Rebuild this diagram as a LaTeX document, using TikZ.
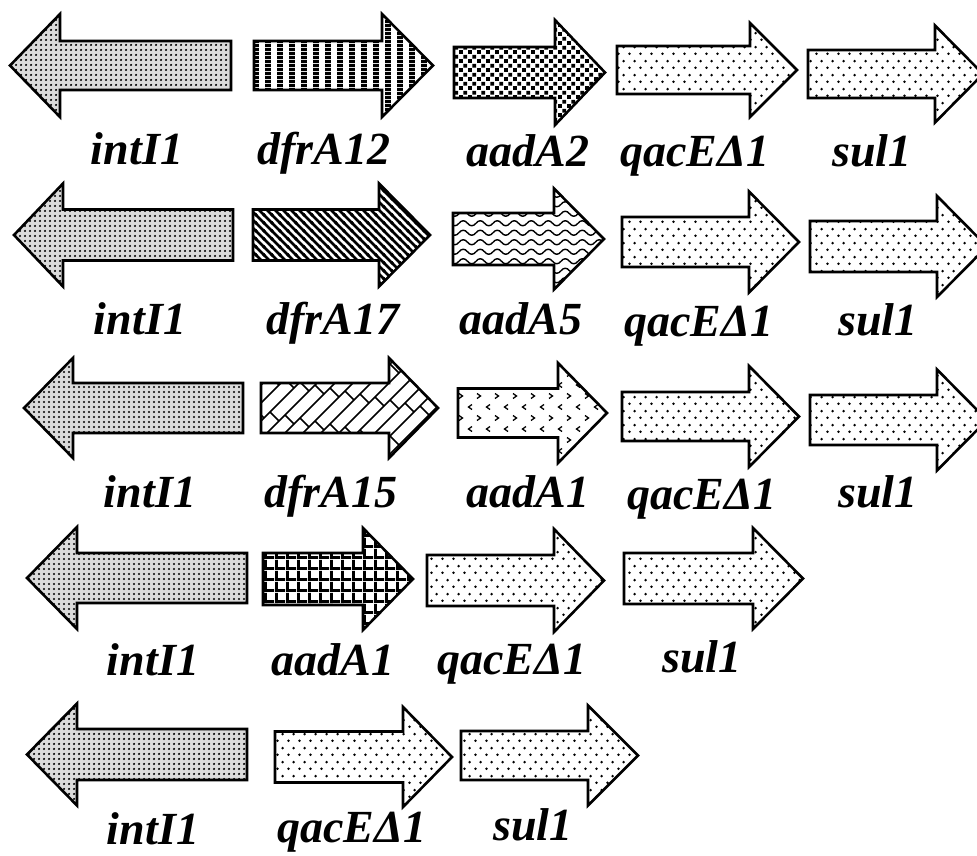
\documentclass[tikz,border=0pt]{standalone}
\usepackage{fontspec}
\setmainfont{Liberation Serif}
\usetikzlibrary{patterns}

\pgfdeclarepatternformonly{densedots}{\pgfqpoint{0pt}{0pt}}{\pgfqpoint{4.5pt}{4.5pt}}{\pgfqpoint{4.5pt}{4.5pt}}%
{\pgfpathcircle{\pgfqpoint{2.25pt}{2.25pt}}{1.3pt}\pgfusepath{fill}}
\pgfdeclarepatternformonly{sparsedots}{\pgfqpoint{0pt}{0pt}}{\pgfqpoint{11pt}{14pt}}{\pgfqpoint{11pt}{14pt}}%
{\pgfpathcircle{\pgfqpoint{2.75pt}{3.5pt}}{1.5pt}\pgfpathcircle{\pgfqpoint{8.25pt}{10.5pt}}{1.5pt}\pgfusepath{fill}}
\pgfdeclarepatternformonly{vstripes}{\pgfqpoint{0pt}{0pt}}{\pgfqpoint{11.5pt}{4pt}}{\pgfqpoint{11.5pt}{4pt}}%
{\pgfpathrectangle{\pgfqpoint{0pt}{0pt}}{\pgfqpoint{6pt}{4pt}}\pgfusepath{fill}}
\pgfdeclarepatternformonly{dstripes}{\pgfqpoint{-1pt}{-1pt}}{\pgfqpoint{9pt}{9pt}}{\pgfqpoint{8pt}{8pt}}%
{\pgfsetlinewidth{2.6pt}\pgfpathmoveto{\pgfqpoint{-1pt}{9pt}}\pgfpathlineto{\pgfqpoint{9pt}{-1pt}}%
\pgfpathmoveto{\pgfqpoint{-1pt}{1pt}}\pgfpathlineto{\pgfqpoint{1pt}{-1pt}}%
\pgfpathmoveto{\pgfqpoint{7pt}{9pt}}\pgfpathlineto{\pgfqpoint{9pt}{7pt}}\pgfusepath{stroke}}
\pgfdeclarepatternformonly{checks}{\pgfqpoint{0pt}{0pt}}{\pgfqpoint{9pt}{9pt}}{\pgfqpoint{9pt}{9pt}}%
{\pgfpathrectangle{\pgfqpoint{0.2pt}{0.2pt}}{\pgfqpoint{4.2pt}{4.2pt}}\pgfpathrectangle{\pgfqpoint{4.7pt}{4.7pt}}{\pgfqpoint{4.2pt}{4.2pt}}\pgfusepath{fill}}
\pgfdeclarepatternformonly{waves}{\pgfqpoint{0pt}{-1pt}}{\pgfqpoint{17pt}{10.5pt}}{\pgfqpoint{17pt}{9.5pt}}%
{\pgfsetlinewidth{1.4pt}\pgfpathmoveto{\pgfqpoint{0pt}{4.75pt}}%
\pgfpathcurveto{\pgfqpoint{2.8pt}{8.1pt}}{\pgfqpoint{5.7pt}{8.1pt}}{\pgfqpoint{8.5pt}{4.75pt}}%
\pgfpathcurveto{\pgfqpoint{11.3pt}{1.4pt}}{\pgfqpoint{14.2pt}{1.4pt}}{\pgfqpoint{17pt}{4.75pt}}\pgfusepath{stroke}}
\pgfdeclarepatternformonly{cgrid}{\pgfqpoint{0pt}{0pt}}{\pgfqpoint{11pt}{11pt}}{\pgfqpoint{11pt}{11pt}}%
{\pgfpathrectangle{\pgfqpoint{0pt}{0pt}}{\pgfqpoint{11pt}{3.2pt}}\pgfpathrectangle{\pgfqpoint{0pt}{0pt}}{\pgfqpoint{3.2pt}{11pt}}\pgfusepath{fill}}

% right-pointing gene: #2 shaft left, #3 head base, #4 tip, #5 centre y, #6 shaft half, #7 head half
\newcommand{\GeneR}[7][]{\draw[genebox,#1] (#2,#5-#6) -- (#3,#5-#6) -- (#3,#5-#7) -- (#4,#5) -- (#3,#5+#7) -- (#3,#5+#6) -- (#2,#5+#6) -- cycle;}
% left-pointing gene: #2 tip, #3 head base, #4 shaft end
\newcommand{\GeneL}[7][]{\draw[genebox,#1] (#2,#5) -- (#3,#5-#7) -- (#3,#5-#6) -- (#4,#5-#6) -- (#4,#5+#6) -- (#3,#5+#6) -- (#3,#5+#7) -- cycle;}
\newcommand{\ClipR}[6]{\clip (#1,#4-#5) -- (#2,#4-#5) -- (#2,#4-#6) -- (#3,#4) -- (#2,#4+#6) -- (#2,#4+#5) -- (#1,#4+#5) -- cycle;}

\tikzset{
  genebox/.style={draw=black, line width=2.6pt, line join=miter, miter limit=10},
  intpat/.style={preaction={fill=gray!28}, pattern=densedots, pattern color=black},
  lbl/.style={anchor=base, inner sep=0pt, font=\fontsize{46}{50}\selectfont\bfseries\itshape},
  brick/.style={line width=1.6pt},
  chev/.style={line width=1.3pt}
}

\begin{document}
\begin{tikzpicture}[x=1pt,y=-1pt]
\useasboundingbox (0,0) rectangle (977,855);
\fill[white] (0,0) rectangle (977,855);

% ---- row 1
\GeneL[intpat]{10}{60}{231}{65.5}{24.5}{51.5}
\GeneR[pattern=vstripes]{254}{382}{433}{65.5}{24.5}{51.5}
\GeneR[pattern=checks]{454}{555}{605}{72.5}{25.5}{52.5}
\GeneR[pattern=sparsedots]{617}{750}{797}{70}{24}{47}
\GeneR[pattern=sparsedots]{808}{935}{983}{74}{24}{48.5}
\node[lbl] (r1a) at (137,164) {intI1};
\node[lbl] (r1b) at (324,164) {dfrA12};
\node[lbl] (r1c) at (528,166) {aadA2};
\node[lbl] (r1d) at (695,166) {qacEΔ1};
\node[lbl] (r1e) at (872,166) {sul1};

% ---- row 2
\GeneL[intpat]{14}{63}{233}{235}{25.5}{51.5}
\GeneR[pattern=dstripes]{253}{379}{430}{235}{25.5}{51.5}
\GeneR[pattern=waves]{453}{554}{604}{239}{26}{50.5}
\GeneR[pattern=sparsedots]{622}{749}{799}{242}{25}{50.5}
\GeneR[pattern=sparsedots]{810}{937}{987}{246.5}{25.5}{50.5}
\node[lbl] (r2a) at (140,334) {intI1};
\node[lbl] (r2b) at (333,334) {dfrA17};
\node[lbl] (r2c) at (521,334) {aadA5};
\node[lbl] (r2d) at (699,336) {qacEΔ1};
\node[lbl] (r2e) at (878,335) {sul1};

% ---- row 3
\GeneL[intpat]{24}{73}{243}{408}{25}{50}
\begin{scope}
  \ClipR{261}{389}{438}{408}{25}{50}
  \foreach \k in {0,...,17}{
    \pgfmathsetmacro{\cc}{610+18*\k}
    \pgfmathsetmacro{\boff}{mod(\k,2)*15}
    \draw[brick] (250,\cc-250) -- (450,\cc-450);
    \foreach \j in {0,...,7}{
      \draw[brick] ({240+\boff+30*\j},{\cc-240-\boff-30*\j}) -- ++(9,9);
    }
  }
\end{scope}
\GeneR{261}{389}{438}{408}{25}{50}
\begin{scope}
  \ClipR{458}{558}{607}{413}{24.5}{50}
  \foreach \r in {0,...,9}{
    \pgfmathsetmacro{\yy}{363+11*\r}
    \pgfmathsetmacro{\coff}{mod(\r,2)*9}
    \pgfmathsetmacro{\cdir}{ifthenelse(mod(\r,2)==0,1,-1)}
    \foreach \c in {0,...,9}{
      \draw[chev] ({452+\coff+18*\c+2*\cdir},\yy-2.5) -- ({452+\coff+18*\c-1.5*\cdir},\yy) -- ({452+\coff+18*\c+2*\cdir},\yy+2.5);
    }
  }
\end{scope}
\GeneR{458}{558}{607}{413}{24.5}{50}
\GeneR[pattern=sparsedots]{622}{749}{799}{416.5}{24.5}{50.5}
\GeneR[pattern=sparsedots]{810}{937}{987}{420}{25}{50.5}
\node[lbl] (r3a) at (150,507) {intI1};
\node[lbl] (r3b) at (331,507) {dfrA15};
\node[lbl] (r3c) at (528,507) {aadA1};
\node[lbl] (r3d) at (702,509) {qacEΔ1};
\node[lbl] (r3e) at (878,507) {sul1};

% ---- row 4
\GeneL[intpat]{27}{77}{247}{578}{25}{51}
\GeneR[pattern=cgrid]{263}{363}{413}{579}{26}{51}
\GeneR[pattern=sparsedots]{427}{554}{604}{580.5}{25.5}{51.5}
\GeneR[pattern=sparsedots]{624}{753}{803}{578.5}{25.5}{50.5}
\node[lbl] (r4a) at (153,675) {intI1};
\node[lbl] (r4b) at (333,675) {aadA1};
\node[lbl] (r4c) at (512,674) {qacEΔ1};
\node[lbl] (r4d) at (702,672) {sul1};

% ---- row 5
\GeneL[intpat]{27}{77}{247}{754.5}{25.5}{51}
\GeneR[pattern=sparsedots]{275}{403}{452}{757}{25.5}{50}
\GeneR[pattern=sparsedots]{461}{588}{638}{755.5}{24.5}{50}
\node[lbl] (r5a) at (153,844) {intI1};
\node[lbl] (r5b) at (352,842) {qacEΔ1};
\node[lbl] (r5c) at (533,840) {sul1};
\end{tikzpicture}
\end{document}
